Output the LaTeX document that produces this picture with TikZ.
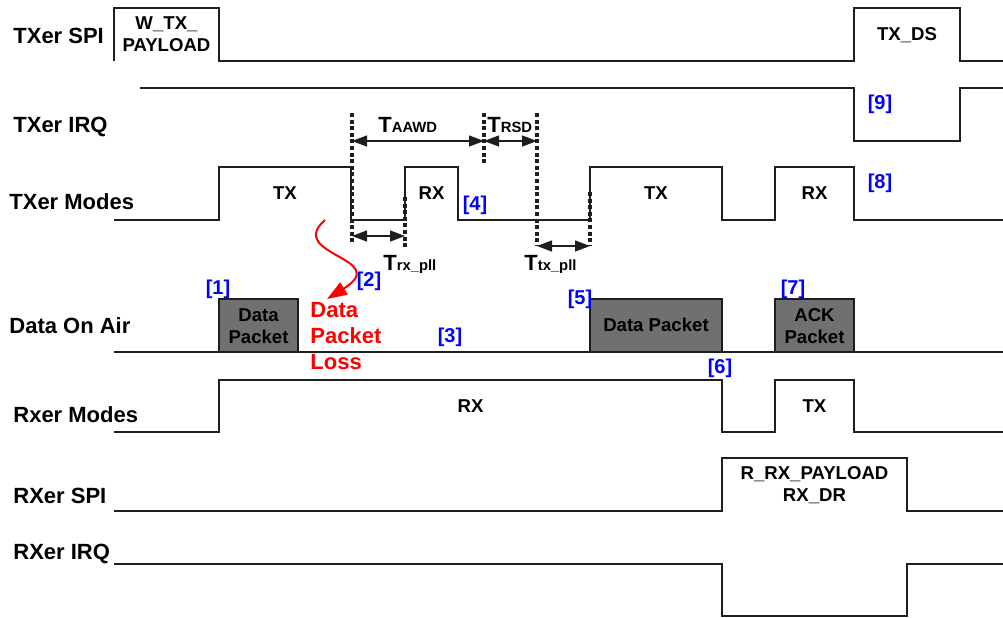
\documentclass[tikz,border=0pt]{standalone}
\usepackage{fontspec}
\setmainfont{Liberation Sans}
\usetikzlibrary{arrows.meta}
\definecolor{wire}{HTML}{1E1E1E}
\definecolor{packet}{HTML}{707070}
\definecolor{note}{HTML}{0000FF}
\definecolor{loss}{HTML}{FF0000}
\newcommand{\tsub}[1]{T{\fontsize{7.4}{8}\selectfont #1}}

\begin{document}
\begin{tikzpicture}[
		x=0.5pt, y=-0.5pt,
		font=\fontsize{11}{13}\selectfont\bfseries,
		every node/.style={inner sep=0pt, align=center},
		lane/.style={anchor=base west},
		wave/.style={draw=wire, line width=0.65pt},
		pkt/.style={draw=wire, line width=0.65pt, fill=packet},
		boxtxt/.style={font=\fontsize{9.3}{11}\selectfont\bfseries},
		tag/.style={text=note, font=\fontsize{10}{12}\selectfont\bfseries},
		guide/.style={draw=wire, line width=1.6pt, dash pattern=on 2pt off 1.3pt},
		dim/.style={{Triangle[length=7.5pt,width=5.5pt]}-{Triangle[length=7.5pt,width=5.5pt]}, line width=0.65pt, wire},
		lossarr/.style={-{Triangle[length=10pt,width=7pt]}, line width=1pt, loss},
		]

		\useasboundingbox (0,0) rectangle (1003,617);

		\node[lane] (spitx)  at (13,43)    {TXer SPI};
		\node[lane] (irqtx)  at (13,132.5) {TXer IRQ};
		\node[lane] (modetx) at (9,209)    {TXer Modes};
		\node[lane] (air)    at (9,333.5)  {Data On Air};
		\node[lane] (moderx) at (13,422.5) {Rxer Modes};
		\node[lane] (spirx)  at (13,503.5) {RXer SPI};
		\node[lane] (irqrx)  at (13,559)   {RXer IRQ};

		\draw[wave] (114,61) -- (114,8) -- (219,8) -- (219,61) -- (854,61) -- (854,8) -- (960,8) -- (960,61) -- (1003,61);
		\draw[wave] (140,88) -- (854,88) -- (854,141) -- (960,141) -- (960,88) -- (1003,88);
		\draw[wave] (114,220) -- (219,220) -- (219,167) -- (351,167) -- (351,220) -- (405,220) -- (405,167) -- (458,167)
			-- (458,220) -- (590,220) -- (590,167) -- (722,167) -- (722,220) -- (775,220) -- (775,167) -- (854,167)
			-- (854,220) -- (1003,220);
		\draw[wave] (114,352) -- (1003,352);
		\draw[pkt] (219,299) rectangle (298,352);
		\draw[pkt] (590,299) rectangle (722,352);
		\draw[pkt] (775,299) rectangle (854,352);
		\draw[wave] (114,432) -- (219,432) -- (219,380) -- (722,380) -- (722,432) -- (775,432) -- (775,380) -- (854,380)
			-- (854,432) -- (1003,432);
		\draw[wave] (114,511) -- (722,511) -- (722,458) -- (907,458) -- (907,511) -- (1003,511);
		\draw[wave] (114,564) -- (722,564) -- (722,616) -- (907,616) -- (907,564) -- (1003,564);

		\node[boxtxt, anchor=north] (wtx)  at (166.5,16.7) {W\_TX\_\\PAYLOAD};
		\node[boxtxt, anchor=base]  (txds) at (907,40)     {TX\_DS};
		\node[boxtxt] (tx1)   at (285,193.5)   {TX};
		\node[boxtxt] (rx1)   at (431.5,193.5) {RX};
		\node[boxtxt] (tx2)   at (656,193.5)   {TX};
		\node[boxtxt] (rx2)   at (814.5,193.5) {RX};
		\node[boxtxt, anchor=north] (pkt1) at (258.5,308.3) {Data\\Packet};
		\node[boxtxt] (pkt2)  at (656,325)     {Data Packet};
		\node[boxtxt, anchor=north] (ack)  at (814.5,307.7) {ACK\\Packet};
		\node[boxtxt] (rxall) at (470.5,406)   {RX};
		\node[boxtxt] (txack) at (814.5,406)   {TX};
		\node[boxtxt, anchor=north] (rdpl) at (814.5,466) {R\_RX\_PAYLOAD\\RX\_DR};

		\coordinate (g1t) at (352,113); \coordinate (g1b) at (352,244);
		\coordinate (g2t) at (405,197); \coordinate (g2b) at (405,247);
		\coordinate (g3t) at (484,113); \coordinate (g3b) at (484,164);
		\coordinate (g4t) at (537,113); \coordinate (g4b) at (537,246);
		\coordinate (g5t) at (590,192); \coordinate (g5b) at (590,246);
		\draw[guide] (g1t) -- (g1b);
		\draw[guide] (g2t) -- (g2b);
		\draw[guide] (g3t) -- (g3b);
		\draw[guide] (g4t) -- (g4b);
		\draw[guide] (g5t) -- (g5b);

		\coordinate (aawdl) at (352,141);
		\coordinate (aawdr) at (484,141);
		\coordinate (rsdr)  at (537,141);
		\coordinate (rxpl)  at (352,236);
		\coordinate (rxpr)  at (405,236);
		\coordinate (txpl)  at (537,246);
		\coordinate (txpr)  at (590,246);
		\draw[dim] (aawdl) -- (aawdr);
		\draw[dim] (aawdr) -- (rsdr);
		\draw[dim] (rxpl) -- (rxpr);
		\draw[dim] (txpl) -- (txpr);

		\node[anchor=base west] (taawd) at (378,132) {\tsub{AAWD}};
		\node[anchor=base west] (trsd)  at (487,132) {\tsub{RSD}};
		\node[anchor=base west] (trx)   at (383,270) {\tsub{rx\_pll}};
		\node[anchor=base west] (ttx)   at (524,270) {\tsub{tx\_pll}};

		\node[anchor=west, align=left, text=loss] (lossnote) at (310,336) {Data\\Packet\\Loss};
		\coordinate (lossfrom) at (325,220);
		\coordinate (lossto)   at (327,299);
		\draw[lossarr] (lossfrom) .. controls (285,255) and (393,258) .. (lossto);

		\node[tag] (n1) at (218,289) {[1]};
		\node[tag] (n2) at (369,281) {[2]};
		\node[tag] (n3) at (450,337) {[3]};
		\node[tag] (n4) at (475,205) {[4]};
		\node[tag] (n5) at (580,299) {[5]};
		\node[tag] (n6) at (720,368) {[6]};
		\node[tag] (n7) at (793,289) {[7]};
		\node[tag] (n8) at (880,183) {[8]};
		\node[tag] (n9) at (880,104) {[9]};

	\end{tikzpicture}
\end{document}
